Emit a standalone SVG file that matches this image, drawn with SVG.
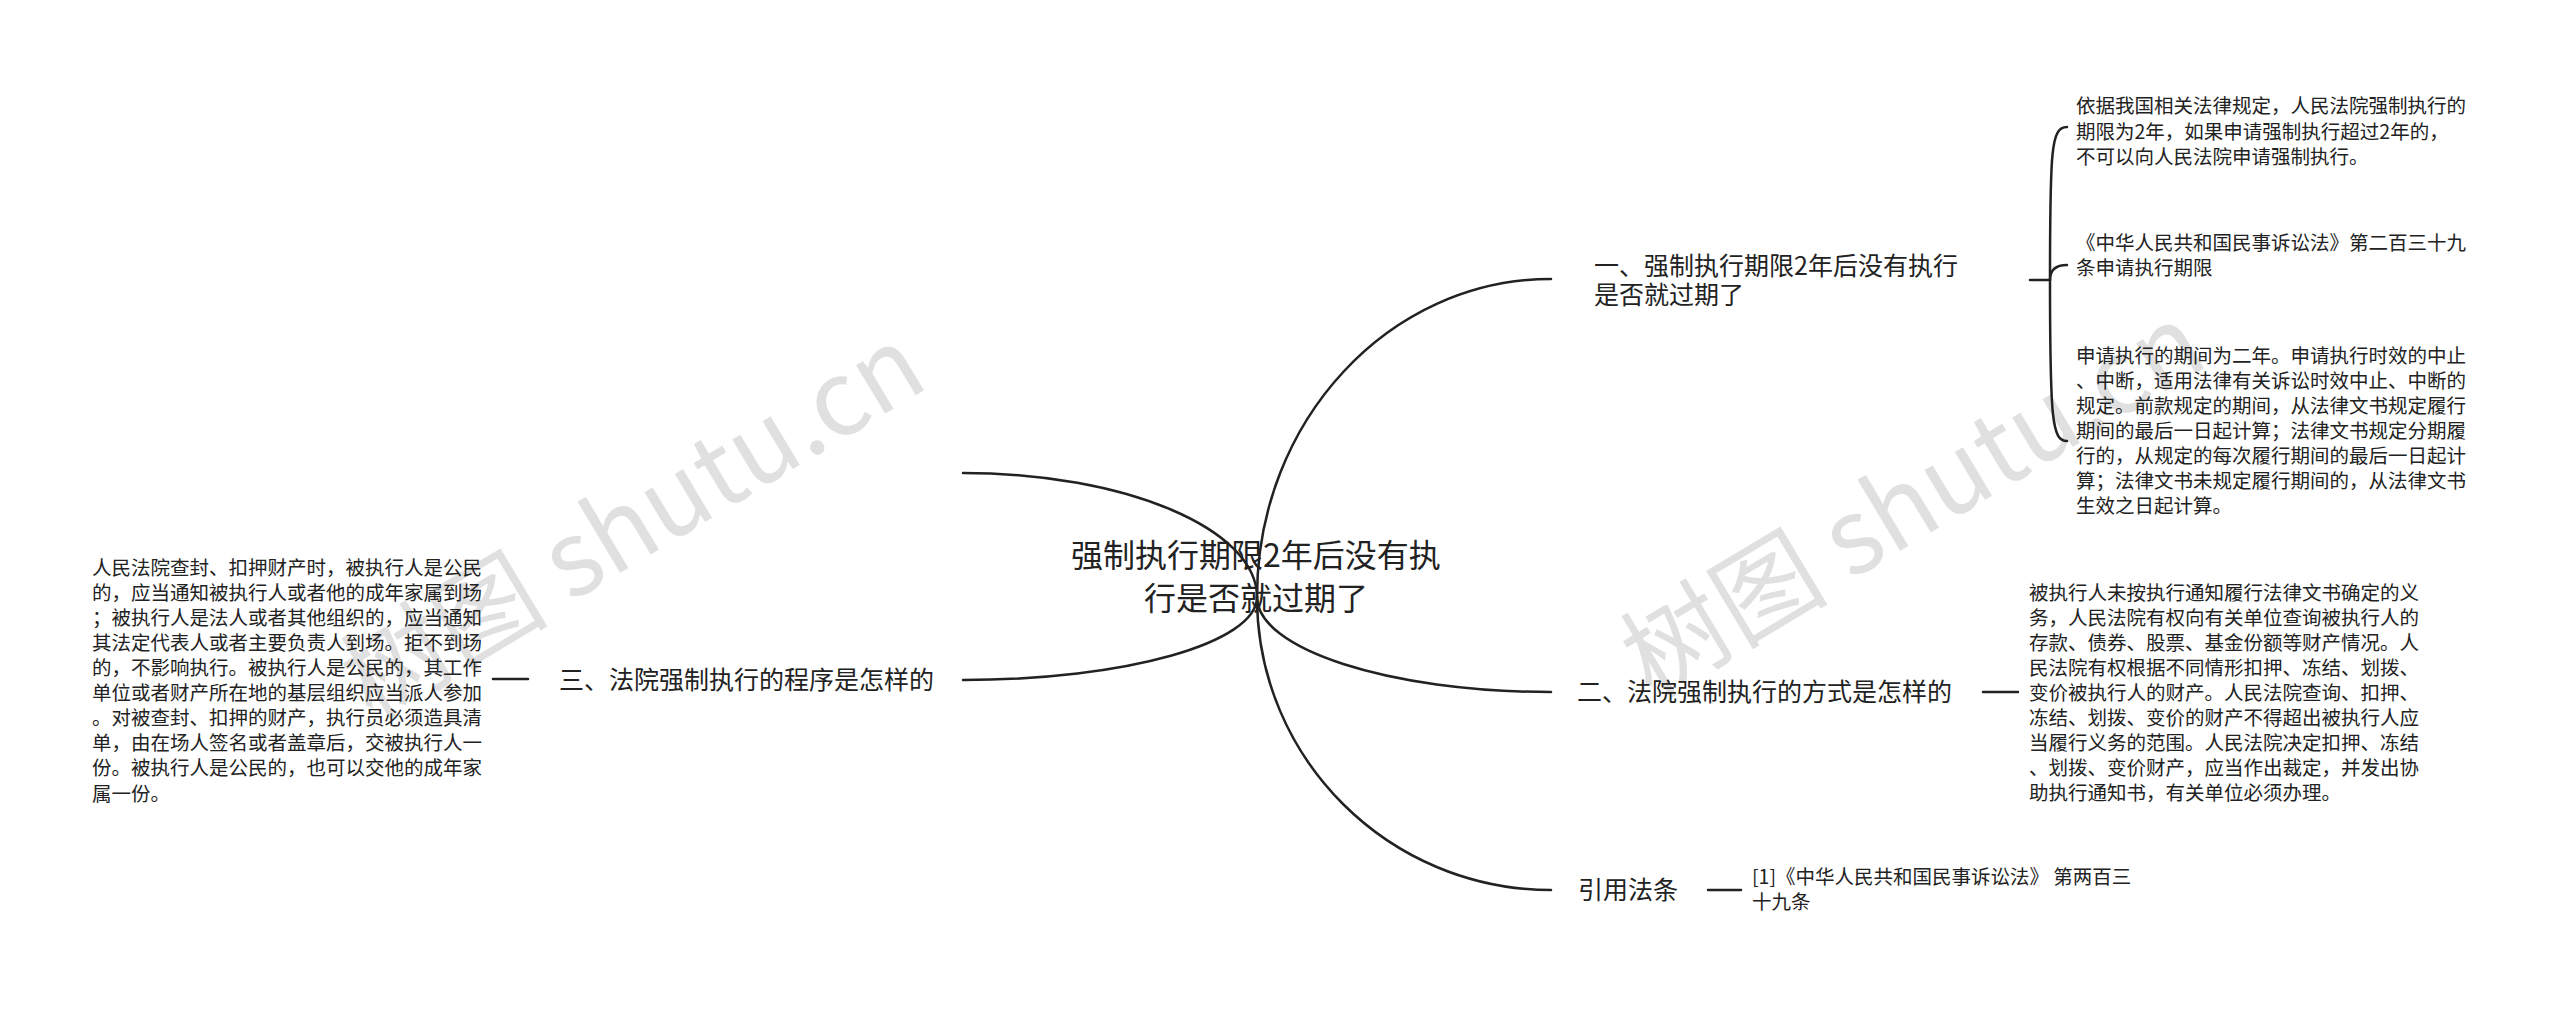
<svg xmlns="http://www.w3.org/2000/svg" width="2560" height="1009" viewBox="0 0 2560 1009">
<style>
text { font-family: "Noto Sans CJK SC", "Liberation Sans", sans-serif; fill: #222; }
.root { font-size: 32px; text-anchor: middle; }
.branch { font-size: 25px; }
.leaf { font-size: 19.5px; }
.wm { font-size: 104px; fill: #e0e0e0; }
.conn path, .conn line { fill: none; stroke: #222; stroke-width: 2.5; stroke-linecap: round; }
</style>
<rect width="2560" height="1009" fill="#fff"/>
<g id="watermark">
<text class="wm" transform="translate(372,722) rotate(-31)">树图 shutu.cn</text>
<text class="wm" transform="translate(1652,700) rotate(-31)">树图 shutu.cn</text>
</g>
<g class="conn" id="connectors">
<path d="M1257,597 C1257,421 1389,279 1551,279"/>
<path d="M1257,597 C1257,649 1389,692 1551,692"/>
<path d="M1257,597 C1257,759 1389,890 1551,890"/>
<path d="M1257,597 C1257,529 1125,473 963,473"/>
<path d="M1257,597 C1257,643 1125,680 963,680"/>
<line x1="493" y1="679" x2="528" y2="679"/>
<line x1="1983" y1="692" x2="2018" y2="692"/>
<line x1="1708" y1="890" x2="1741" y2="890"/>
<line x1="2030" y1="280" x2="2050" y2="280"/>
<path d="M2050,280 C2050,150 2051,127 2067,127"/>
<path d="M2050,280 C2050,270 2055,265 2067,265"/>
<path d="M2050,280 C2050,420 2052,441 2067,441"/>
</g>
<g id="root">
<text class="root" x="1256" y="567">强制执行期限2年后没有执</text>
<text class="root" x="1256" y="610">行是否就过期了</text>
</g>
<g id="node1">
<text class="branch" x="1594" y="275">一、强制执行期限2年后没有执行</text>
<text class="branch" x="1594" y="304">是否就过期了</text>
</g>
<g id="node1a">
<text class="leaf" x="2076" y="113">依据我国相关法律规定，人民法院强制执行的</text>
<text class="leaf" x="2076" y="139">期限为2年，如果申请强制执行超过2年的，</text>
<text class="leaf" x="2076" y="164">不可以向人民法院申请强制执行。</text>
</g>
<g id="node1b">
<text class="leaf" x="2076" y="250">《中华人民共和国民事诉讼法》第二百三十九</text>
<text class="leaf" x="2076" y="275">条申请执行期限</text>
</g>
<g id="node1c">
<text class="leaf" x="2076" y="363">申请执行的期间为二年。申请执行时效的中止</text>
<text class="leaf" x="2076" y="388">、中断，适用法律有关诉讼时效中止、中断的</text>
<text class="leaf" x="2076" y="413">规定。前款规定的期间，从法律文书规定履行</text>
<text class="leaf" x="2076" y="438">期间的最后一日起计算；法律文书规定分期履</text>
<text class="leaf" x="2076" y="463">行的，从规定的每次履行期间的最后一日起计</text>
<text class="leaf" x="2076" y="488">算；法律文书未规定履行期间的，从法律文书</text>
<text class="leaf" x="2076" y="513">生效之日起计算。</text>
</g>
<g id="node2">
<text class="branch" x="1577" y="701">二、法院强制执行的方式是怎样的</text>
</g>
<g id="node2a">
<text class="leaf" x="2029" y="600">被执行人未按执行通知履行法律文书确定的义</text>
<text class="leaf" x="2029" y="625">务，人民法院有权向有关单位查询被执行人的</text>
<text class="leaf" x="2029" y="650">存款、债券、股票、基金份额等财产情况。人</text>
<text class="leaf" x="2029" y="675">民法院有权根据不同情形扣押、冻结、划拨、</text>
<text class="leaf" x="2029" y="700">变价被执行人的财产。人民法院查询、扣押、</text>
<text class="leaf" x="2029" y="725">冻结、划拨、变价的财产不得超出被执行人应</text>
<text class="leaf" x="2029" y="750">当履行义务的范围。人民法院决定扣押、冻结</text>
<text class="leaf" x="2029" y="775">、划拨、变价财产，应当作出裁定，并发出协</text>
<text class="leaf" x="2029" y="800">助执行通知书，有关单位必须办理。</text>
</g>
<g id="node3">
<text class="branch" x="1578" y="899">引用法条</text>
</g>
<g id="node3a">
<text class="leaf" x="1752" y="884">[1]《中华人民共和国民事诉讼法》 第两百三</text>
<text class="leaf" x="1752" y="909">十九条</text>
</g>
<g id="node4">
<text class="branch" x="559" y="689">三、法院强制执行的程序是怎样的</text>
</g>
<g id="node4a">
<text class="leaf" x="92" y="575">人民法院查封、扣押财产时，被执行人是公民</text>
<text class="leaf" x="92" y="600">的，应当通知被执行人或者他的成年家属到场</text>
<text class="leaf" x="92" y="625">；被执行人是法人或者其他组织的，应当通知</text>
<text class="leaf" x="92" y="650">其法定代表人或者主要负责人到场。拒不到场</text>
<text class="leaf" x="92" y="675">的，不影响执行。被执行人是公民的，其工作</text>
<text class="leaf" x="92" y="700">单位或者财产所在地的基层组织应当派人参加</text>
<text class="leaf" x="92" y="725">。对被查封、扣押的财产，执行员必须造具清</text>
<text class="leaf" x="92" y="750">单，由在场人签名或者盖章后，交被执行人一</text>
<text class="leaf" x="92" y="775">份。被执行人是公民的，也可以交他的成年家</text>
<text class="leaf" x="92" y="801">属一份。</text>
</g>
</svg>
